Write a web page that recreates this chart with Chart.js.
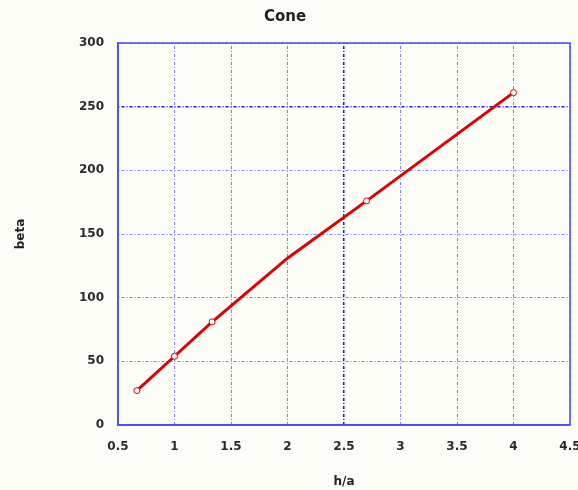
<!DOCTYPE html>
<html lang="en">
<head>
    <meta charset="UTF-8">
    <title>Cone</title>
    <script src="https://cdn.jsdelivr.net/npm/chart.js"></script>
    <style>
        body { margin: 0; background: #fdfdf8; }
        #wrap { width: 578px; height: 490px; }
    </style>
</head>
<body>
    <div id="wrap"><canvas id="coneChart" width="578" height="490"></canvas></div>

    <script>
        // h/a ve beta degerleri
        var hOverA = [0.667, 1, 1.333, 2, 2.7, 4];
        var beta = [27, 54, 81, 131, 176, 261];
        // x=2 noktasinda isaret yok
        var markerRadius = [3, 3, 3, 0, 3, 3];

        var xTicks = [0.5, 1, 1.5, 2, 2.5, 3, 3.5, 4, 4.5];
        var yTicks = [0, 50, 100, 150, 200, 250, 300];

        var tickFont = { family: 'DejaVu Sans', size: 12, weight: 'bold' };
        var gridBlue = '#7c7cff';
        var darkBlue = '#1818e8';

        // arka plan ve cerceve (ust ve sag kenar)
        var framePlugin = {
            id: 'frame',
            beforeDraw: function (chart) {
                var c = chart.ctx;
                c.save();
                c.fillStyle = '#fdfdf8';
                c.fillRect(0, 0, chart.width, chart.height);
                c.restore();
            },
            afterDraw: function (chart) {
                var a = chart.chartArea;
                var c = chart.ctx;
                c.save();
                c.strokeStyle = '#4a4aff';
                c.lineWidth = 1.5;
                c.strokeRect(a.left, a.top, a.right - a.left, a.bottom - a.top);
                c.restore();
            }
        };

        var points = hOverA.map(function (x, i) { return { x: x, y: beta[i] }; });

        new Chart(document.getElementById('coneChart'), {
            type: 'scatter',
            data: {
                datasets: [{
                    label: 'beta',
                    data: points,
                    showLine: true,
                    borderColor: '#e00000',
                    borderWidth: 3,
                    pointRadius: markerRadius,
                    pointBackgroundColor: '#ffffff',
                    pointBorderColor: '#e00000',
                    pointBorderWidth: 1,
                    tension: 0
                }]
            },
            options: {
                responsive: false,
                animation: false,
                layout: { padding: { top: 0, right: 8, left: 0, bottom: 0 } },
                plugins: {
                    legend: { display: false },
                    tooltip: { enabled: false },
                    title: {
                        display: true,
                        text: 'Cone',
                        color: '#222',
                        font: { family: 'DejaVu Sans', size: 15, weight: 'bold' },
                        padding: { top: 8, bottom: 17 }
                    }
                },
                scales: {
                    x: {
                        type: 'linear',
                        min: 0.5,
                        max: 4.5,
                        afterBuildTicks: function (s) { s.ticks = xTicks.map(function (v) { return { value: v }; }); },
                        afterFit: function (s) { s.height = 65; s.paddingLeft = 0; s.paddingRight = 0; },
                        ticks: {
                            font: tickFont, color: '#2a2a2a', padding: 15, maxRotation: 0,
                            callback: function (v) { return String(v); }
                        },
                        grid: {
                            drawTicks: false,
                            color: function (ctx) { return ctx.tick && ctx.tick.value === 2.5 ? darkBlue : gridBlue; },
                            lineWidth: function (ctx) { return ctx.tick && ctx.tick.value === 2.5 ? 1.5 : 1; }
                        },
                        border: { color: '#4a4aff', width: 1.5, dash: [1, 2, 3, 2] },
                        title: {
                            display: true,
                            text: 'h/a',
                            color: '#222',
                            font: tickFont,
                            padding: { top: 0, bottom: 1 }
                        }
                    },
                    y: {
                        type: 'linear',
                        min: 0,
                        max: 300,
                        afterBuildTicks: function (s) { s.ticks = yTicks.map(function (v) { return { value: v }; }); },
                        afterFit: function (s) { s.width = 118; },
                        ticks: {
                            font: tickFont, color: '#2a2a2a', padding: 14,
                            callback: function (v) { return String(v); }
                        },
                        grid: {
                            drawTicks: false,
                            color: function (ctx) { return ctx.tick && ctx.tick.value === 250 ? darkBlue : gridBlue; },
                            lineWidth: function (ctx) { return ctx.tick && ctx.tick.value === 250 ? 1.5 : 1; }
                        },
                        border: { color: '#4a4aff', width: 1.5, dash: [1, 2, 3, 2] },
                        title: {
                            display: true,
                            text: 'beta',
                            color: '#222',
                            font: tickFont,
                            padding: { top: 14, bottom: 0 }
                        }
                    }
                }
            },
            plugins: [framePlugin]
        });
    </script>
</body>
</html>
